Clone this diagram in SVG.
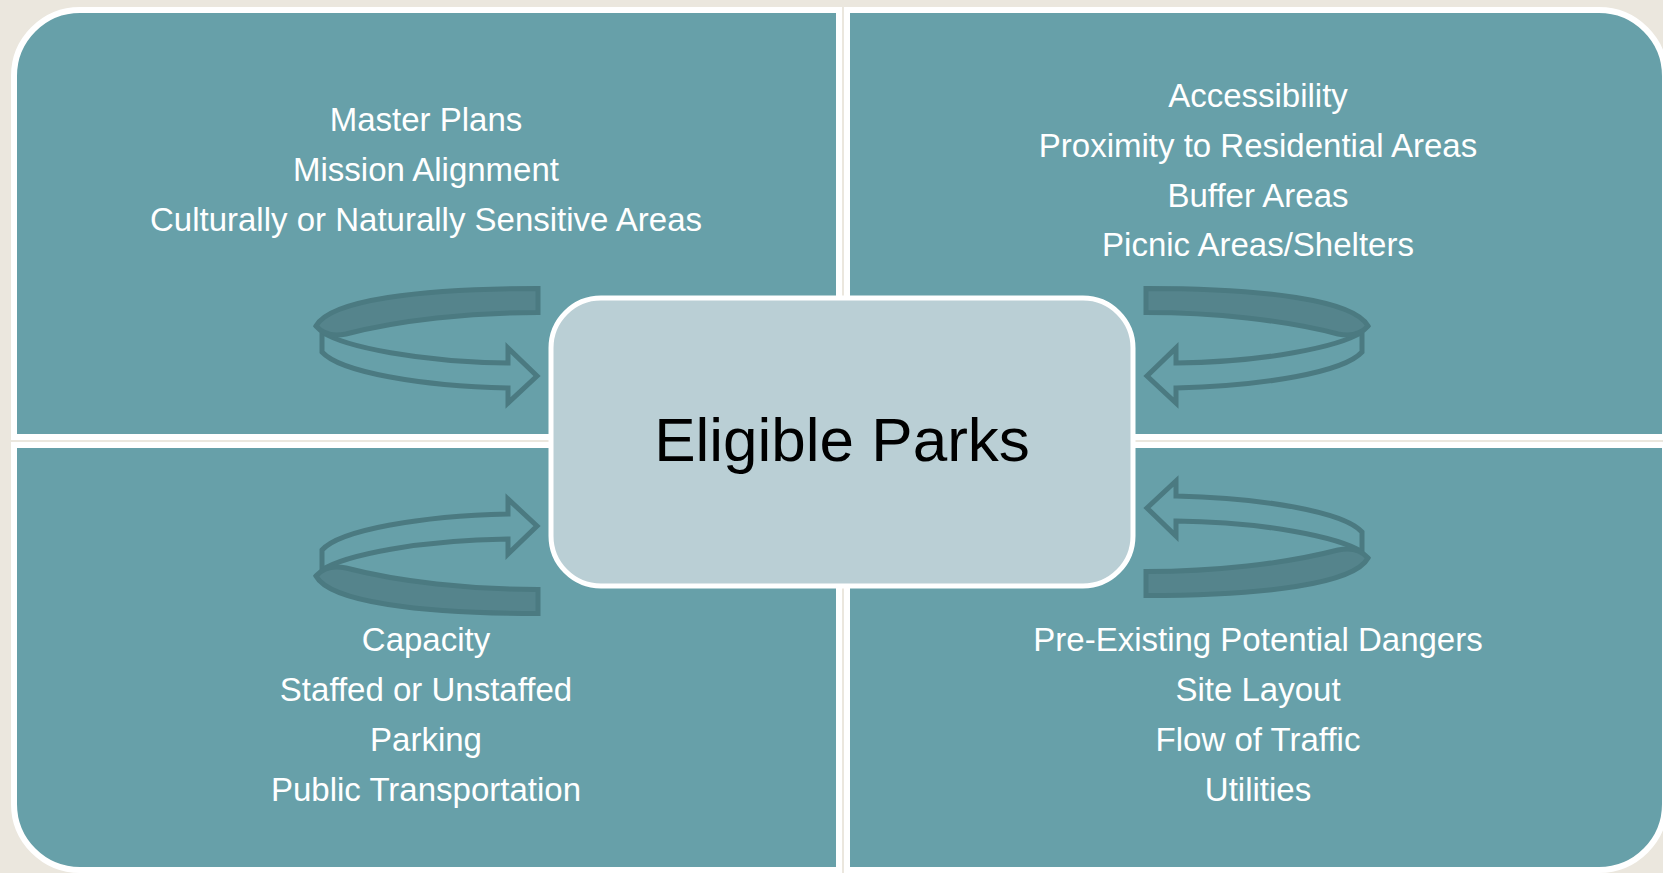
<svg xmlns="http://www.w3.org/2000/svg" width="1663" height="873" viewBox="0 0 1663 873">
<style>
.quad{fill:#67a0a9;stroke:#ffffff;stroke-width:6}
.qt{font-family:"Liberation Sans",Arial,sans-serif;font-size:33px;fill:#ffffff;text-anchor:middle}
.band{fill:#55848c;stroke:#4b7a81;stroke-width:5;stroke-linejoin:miter}
.shaft{fill:none;stroke:#4b7a81;stroke-width:5;stroke-linejoin:miter}
.center{fill:#bacfd5;stroke:#ffffff;stroke-width:5}
.ct{font-family:"Liberation Sans",Arial,sans-serif;font-size:62px;fill:#000000;text-anchor:middle}
</style>
<defs>
<g id="arrowTL">
<path class="shaft" d="M322,328 L322,352 C340,372 420,386 508,388 L508,403 L537,376 L508,348 L508,363 C420,362 345,347 322,332"/>
<path class="band" d="M538,288.5 C420,288.5 330,300 316,326 C322,333 332,337 346,334 C400,320 470,312.5 538,312.5 Z"/>
</g>
</defs>
<rect width="1663" height="873" fill="#ebe7de"/>
<g id="quadrant-tl">
<path class="quad" d="M14,437 L14,76 A66,66 0 0 1 80,10 L839,10 L839,437 Z"/>
<text class="qt" x="426" y="131">Master Plans</text>
<text class="qt" x="426" y="181">Mission Alignment</text>
<text class="qt" x="426" y="231">Culturally or Naturally Sensitive Areas</text>
</g>
<g id="quadrant-tr">
<path class="quad" d="M847,10 L1599,10 A66,66 0 0 1 1665,76 L1665,437 L847,437 Z"/>
<text class="qt" x="1258" y="107">Accessibility</text>
<text class="qt" x="1258" y="157">Proximity to Residential Areas</text>
<text class="qt" x="1258" y="207">Buffer Areas</text>
<text class="qt" x="1258" y="256">Picnic Areas/Shelters</text>
</g>
<g id="quadrant-bl">
<path class="quad" d="M14,445 L839,445 L839,870 L80,870 A66,66 0 0 1 14,804 Z"/>
<text class="qt" x="426" y="651">Capacity</text>
<text class="qt" x="426" y="701">Staffed or Unstaffed</text>
<text class="qt" x="426" y="751">Parking</text>
<text class="qt" x="426" y="801">Public Transportation</text>
</g>
<g id="quadrant-br">
<path class="quad" d="M847,445 L1665,445 L1665,804 A66,66 0 0 1 1599,870 L847,870 Z"/>
<text class="qt" x="1258" y="651">Pre-Existing Potential Dangers</text>
<text class="qt" x="1258" y="701">Site Layout</text>
<text class="qt" x="1258" y="751">Flow of Traffic</text>
<text class="qt" x="1258" y="801">Utilities</text>
</g>
<g id="connectors">
<use href="#arrowTL"/>
<use href="#arrowTL" transform="matrix(-1 0 0 1 1684 0)"/>
<use href="#arrowTL" transform="matrix(1 0 0 -1 0 902)"/>
<use href="#arrowTL" transform="matrix(-1 0 0 -1 1684 884)"/>
</g>
<g id="node-center">
<rect class="center" x="551" y="298" width="582" height="288" rx="50" ry="50"/>
<text class="ct" x="842" y="461">Eligible Parks</text>
</g>
</svg>
